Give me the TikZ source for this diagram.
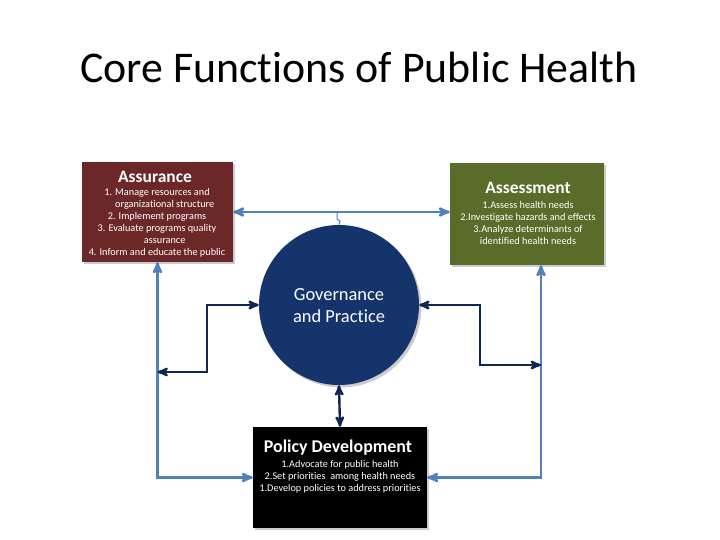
\documentclass[tikz,border=0pt]{standalone}
\usepackage{fontspec}
\setmainfont{Carlito}[Ligatures=NoCommon]
\usepackage{tikz}
\usetikzlibrary{shadows}
\usetikzlibrary{positioning}
\usetikzlibrary{arrows,shapes}
\usetikzlibrary{calc}
\definecolor{assurered}{RGB}{108,40,40}
\definecolor{assessgreen}{RGB}{90,108,42}
\definecolor{govblue}{RGB}{22,52,108}
\definecolor{linkblue}{RGB}{79,129,189}
\definecolor{linknavy}{RGB}{16,38,84}
\tikzstyle{funcbox}=[rectangle,draw=none,inner sep=0pt,drop shadow={opacity=0.4}]
\tikzstyle{head}=[text=white,align=center,font=\bfseries\fontsize{17.5}{20}\selectfont]
\tikzstyle{body}=[text=white,align=center,font=\fontsize{10.3}{12}\selectfont]
\tikzstyle{outer link}=[draw=linkblue,line width=2.6pt,<->,>=stealth']
\tikzstyle{inner link}=[draw=linknavy,line width=2.4pt,<->,>=stealth']
\begin{document}
\begin{tikzpicture}[x=1bp,y=-1bp]

  \useasboundingbox (0,0) rectangle (720,540);
  \node[font=\fontsize{44}{50}\selectfont] (title) at (359,67) {Core Functions of Public Health};

  % the three function boxes
  \foreach \x/\y/\w/\h/\name/\col in {157.5/212/151/100/assurance/assurered, 527/214/154/102/assessment/assessgreen, 340/477.5/174/101/policy/black}
    \node[funcbox,fill=\col,minimum width=\w bp,minimum height=\h bp] (\name) at (\x,\y) {};

  \node[circle,fill=govblue,minimum size=160bp,inner sep=0pt,drop shadow={opacity=0.4}] (gov) at (339,305) {};

  \node[head] (assurancehead) at (155,177) {Assurance};
  \node[body] (assurancetext) at (157,223) {1. Manage resources and\\ \hspace*{1.5em}organizational structure\\ 2. Implement programs\\ 3. Evaluate programs quality\\ \hspace*{1.5em}assurance\\ 4. Inform and educate the public};

  \node[head] (assessmenthead) at (528,188) {Assessment};
  \node[body] (assessmenttext) at (528,223) {1.Assess health needs\\ 2.Investigate hazards and effects\\ 3.Analyze determinants of\\ identified health needs};

  \node[head,font=\fontsize{18.5}{22}\selectfont] (govtext) at (339,306) {Governance\\ and Practice};

  \node[head,font=\bfseries\fontsize{18}{20}\selectfont] (policyhead) at (338,448) {Policy Development};
  \node[body] (policytext) at (340,477) {1.Advocate for public health\\ 2.Set priorities~ among health needs\\ 1.Develop policies to address priorities};

  % outer links
  \coordinate (jag) at (337,213);
  \coordinate (rbus) at (541,476);
  \draw[outer link] (assurance.east) -- (assurance.east -| assessment.west);
  \draw[draw=linkblue, line width=1pt] (jag) -- ++(0,6) -- ++(3,2) -- (gov.north);
  \draw[outer link] (assurance.south) |- (policy.west);
  \draw[outer link] (assessment.south -| rbus) |- (policy.east);

  % inner links
  \coordinate (lturn) at (207,372);
  \coordinate (rturn) at (480,365);
  \draw[inner link] (gov.west) -| (lturn) -- (lturn -| assurance.south);
  \draw[inner link] (gov.east) -| (rturn) -- (rturn -| rbus);
  \draw[inner link] (gov.south) -- (policy.north);

\end{tikzpicture}
\end{document}
